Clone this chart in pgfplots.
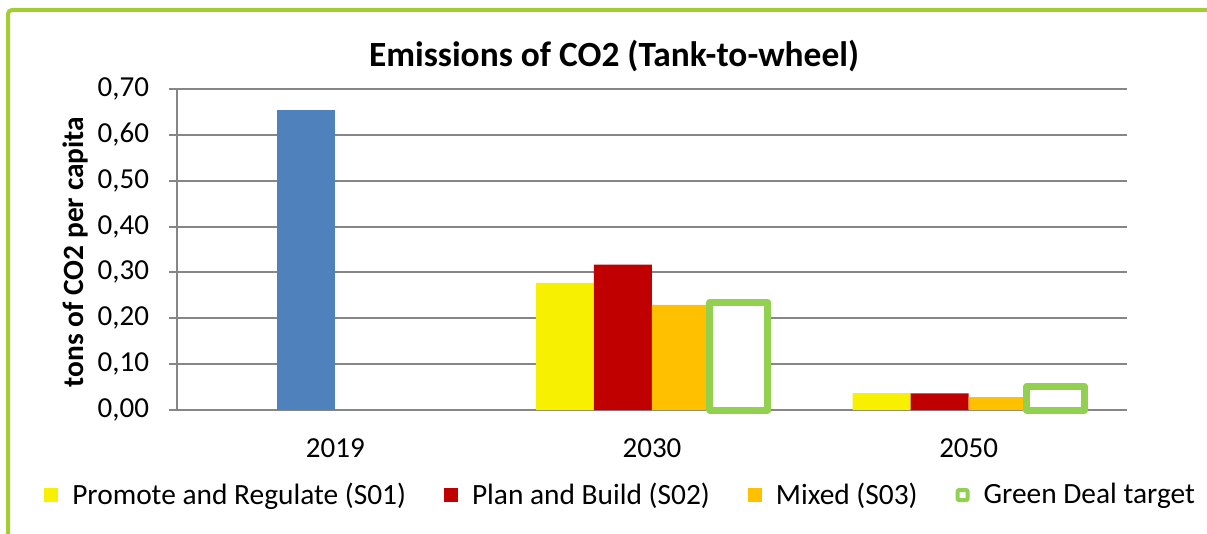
\documentclass[border=0pt]{standalone}
\usepackage{fontspec}
\setmainfont{Carlito}
\usepackage{pgfplots}
\pgfplotsset{compat=1.18}
\definecolor{cyel}{RGB}{247,240,0}
\definecolor{cred}{RGB}{192,0,0}
\definecolor{corg}{RGB}{255,192,0}
\definecolor{cblue}{RGB}{79,129,189}
\definecolor{cgreen}{RGB}{146,208,80}
\definecolor{cframe}{RGB}{163,206,50}
\definecolor{cgrid}{RGB}{134,134,134}
\begin{document}
\begin{tikzpicture}
\useasboundingbox (0,0) rectangle (603.5pt,-267pt);
\draw[cframe, line width=2pt, rounded corners=2pt] (4pt,-267pt) -- (4pt,-5pt) -- (603.5pt,-5pt);
\begin{axis}[
  at={(88.5pt,-205pt)}, anchor=south west,
  scale only axis, width=475pt, height=160.5pt,
  ybar, bar width=29pt,
  xmin=-0.5, xmax=2.5, ymin=0, ymax=0.7,
  xtick={0,1,2}, xticklabels={2019,2030,2050},
  ytick={0,0.1,0.2,0.3,0.4,0.5,0.6,0.7},
  ymajorgrids, grid style={cgrid, line width=1pt},
  axis x line*=bottom, axis y line*=left,
  axis line style={cgrid, line width=1pt, -},
  tick align=outside, major tick length=4pt,
  ytick style={cgrid, line width=1pt},
  xtick style={draw=none},
  clip=false,
  yticklabel style={font=\fontsize{14.5}{17}\selectfont, xshift=-6.5pt},
  xticklabel style={font=\fontsize{14.5}{17}\selectfont, yshift=-7pt},
  /pgf/number format/.cd, fixed, fixed zerofill, precision=2, use comma, assume math mode=true,
  /pgfplots/.cd,
  legend columns=4,
  legend style={draw=none, fill=none, at={(0.468,-0.265)}, anchor=center,
    font=\fontsize{14.7}{17}\selectfont,
    /tikz/every odd column/.append style={column sep=5pt},
    /tikz/every even column/.append style={column sep=17pt}},
  legend cell align=left,
  legend image code/.code={\fill[#1] (0pt,-3.5pt) rectangle (7pt,3.5pt);},
]
\addplot[fill=cblue, draw=none, bar shift=-14.5pt, forget plot] coordinates {(0,0.655)};
\addplot[fill=cyel, draw=none, bar shift=-43.5pt] coordinates {(1,0.277) (2,0.037)};
\addplot[fill=cred, draw=none, bar shift=-14.5pt] coordinates {(1,0.317) (2,0.036)};
\addplot[fill=corg, draw=none, bar shift=14.5pt] coordinates {(1,0.229) (2,0.028)};
\addplot[fill=white, draw=cgreen, line width=3.5pt, line join=round, bar shift=43.5pt,
  legend image code/.code={\draw[cgreen, line width=2pt, fill=white, rounded corners=0.5pt] (1pt,-2.5pt) rectangle (6pt,2.5pt);}]
  coordinates {(1,0.235) (2,0.051)};
\legend{Promote and Regulate (S01), Plan and Build (S02), Mixed (S03), Green Deal target}
\end{axis}
\node[font=\bfseries\fontsize{17.7}{21}\selectfont] at (307pt,-28pt) {Emissions of CO2 (Tank-to-wheel)};
\node[rotate=90, font=\bfseries\fontsize{14.7}{17}\selectfont] at (37.5pt,-126pt) {tons of CO2 per capita};
\end{tikzpicture}
\end{document}
